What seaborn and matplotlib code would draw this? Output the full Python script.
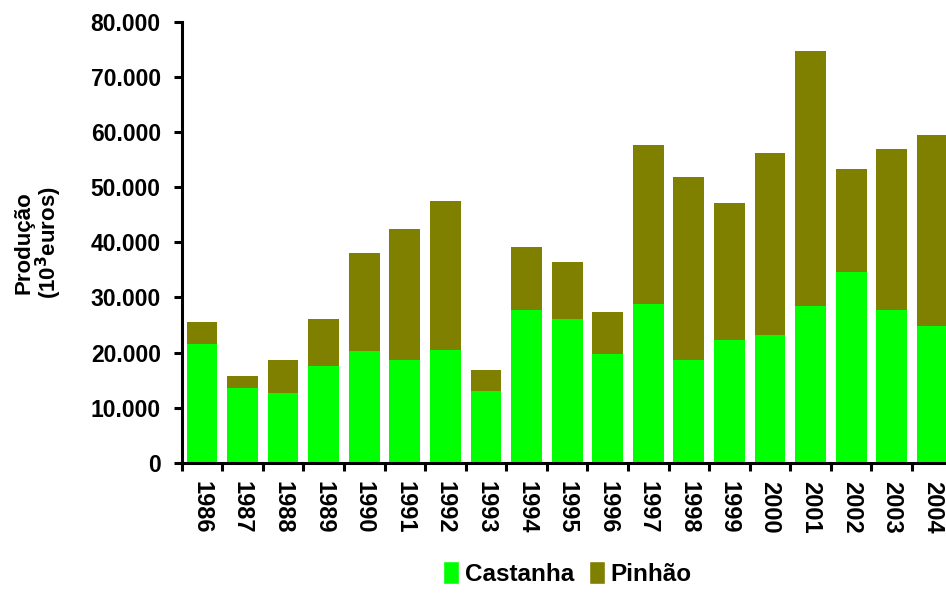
import numpy as np
import pandas as pd
import matplotlib
matplotlib.use("Agg")
import matplotlib.pyplot as plt
import seaborn as sns
from matplotlib.ticker import FuncFormatter, FixedLocator
from matplotlib.patches import Patch

anos = ['1986', '1987', '1988', '1989', '1990', '1991', '1992', '1993', '1994', '1995',
        '1996', '1997', '1998', '1999', '2000', '2001', '2002', '2003', '2004']
castanha = [21500, 13500, 12700, 17600, 20200, 18700, 20500, 13100, 27700, 26000,
            19800, 28900, 18700, 22200, 23100, 28400, 34700, 27700, 24900]
pinhao = [4100, 2300, 6000, 8400, 17800, 23700, 27000, 3800, 11400, 10500,
          7600, 28800, 33200, 24900, 33100, 46400, 18600, 29200, 34600]

cor_castanha = '#00FF00'
cor_pinhao = '#808000'

dados = pd.DataFrame({'Ano': anos, 'Castanha': castanha, 'Pinhão': pinhao})
dados['Total'] = dados['Castanha'] + dados['Pinhão']

sns.set_style('white')
plt.rcParams['font.family'] = ['Liberation Sans', 'DejaVu Sans']
plt.rcParams['font.weight'] = 'bold'
plt.rcParams['text.color'] = 'black'
plt.rcParams['xtick.color'] = 'black'
plt.rcParams['ytick.color'] = 'black'
plt.rcParams['axes.labelcolor'] = 'black'

fig = plt.figure(figsize=(9.46, 5.97), dpi=100)
ax = fig.add_axes([0.192, 0.225, 0.815, 0.738])

sns.barplot(data=dados, x='Ano', y='Total', color=cor_pinhao, width=0.76,
            saturation=1, linewidth=0, ax=ax)
sns.barplot(data=dados, x='Ano', y='Castanha', color=cor_castanha, width=0.76,
            saturation=1, linewidth=0, ax=ax)

ax.set_xlim(-0.5, len(anos) - 0.5)
ax.set_ylim(0, 80000)
ax.set_yticks(np.arange(0, 80001, 10000))
ax.yaxis.set_major_formatter(FuncFormatter(lambda v, p: f'{int(v):,}'.replace(',', '.')))

# ticks do eixo x entre as categorias
ax.xaxis.set_minor_locator(FixedLocator(np.arange(-0.5, len(anos), 1.0)))
ax.tick_params(axis='x', which='major', bottom=True, length=0, pad=13, labelsize=17,
               labelrotation=270)
ax.tick_params(axis='x', which='minor', bottom=True, length=6, width=2.2, color='black')
ax.tick_params(axis='y', left=True, length=6, width=2.2, color='black', labelsize=16.5, pad=9)
for lab in ax.get_xticklabels():
    lab.set_fontweight('bold')
    lab.set_va('top')
for lab in ax.get_yticklabels():
    lab.set_fontweight('bold')

for lado in ['top', 'right']:
    ax.spines[lado].set_visible(False)
for lado in ['left', 'bottom']:
    ax.spines[lado].set_linewidth(2.2)
    ax.spines[lado].set_color('black')

ax.set_xlabel('')
ax.set_ylabel('Produção\n(10$^{\\mathbf{3}}$euros)', fontsize=16, fontweight='bold',
              linespacing=1.0)
ax.yaxis.set_label_coords(-0.152, 0.5)

legenda = [Patch(facecolor=cor_castanha, label='Castanha'),
           Patch(facecolor=cor_pinhao, label='Pinhão')]
fig.legend(handles=legenda, loc='lower center', bbox_to_anchor=(0.6, -0.018), ncol=2,
           frameon=False, prop={'size': 17.5, 'weight': 'bold'}, handlelength=0.65,
           handleheight=1.1, handletextpad=0.25, columnspacing=0.6)

plt.savefig('out.png', dpi=100)
plt.close()
